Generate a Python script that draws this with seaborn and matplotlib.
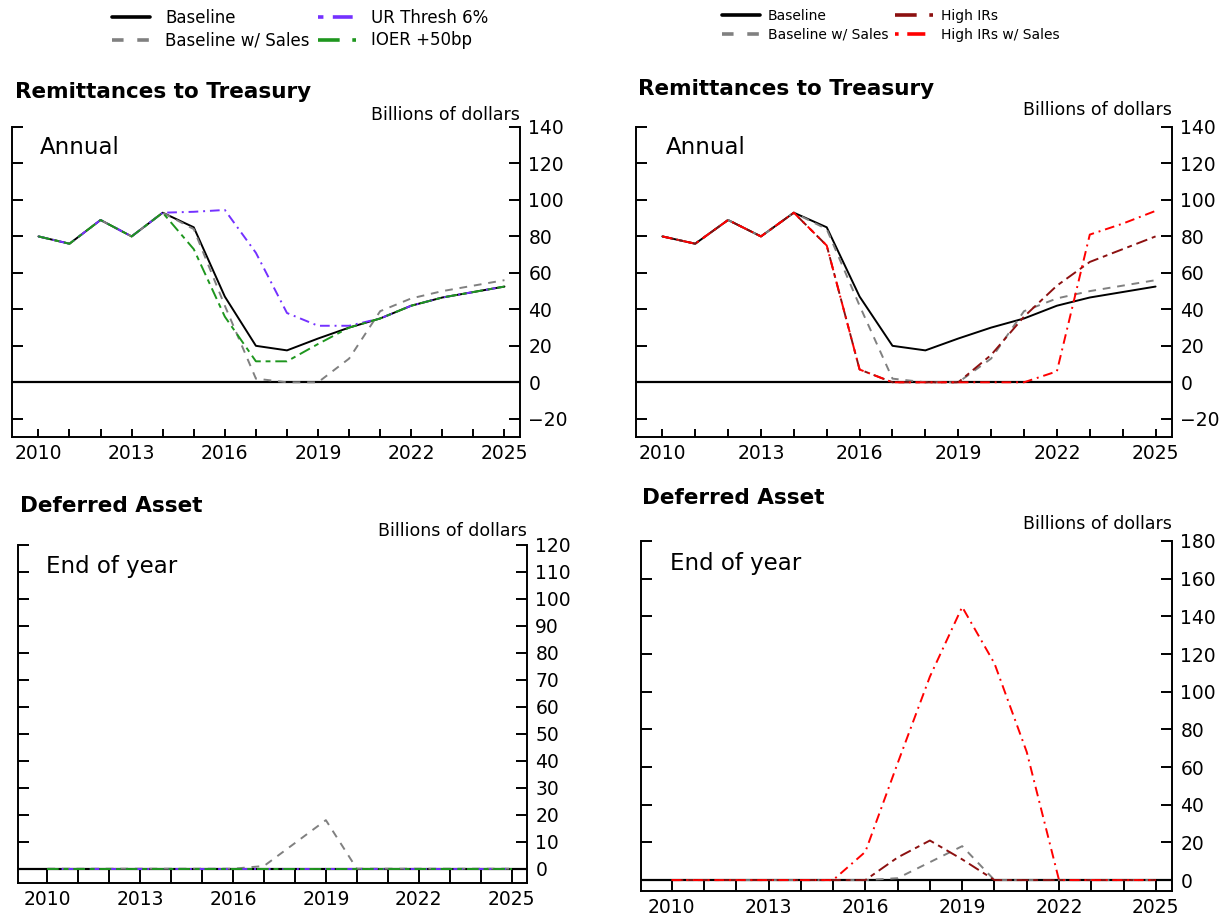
import matplotlib
matplotlib.use("Agg")
import matplotlib.pyplot as plt
from matplotlib.lines import Line2D
from matplotlib.ticker import MultipleLocator, FormatStrFormatter
import pandas as pd
import seaborn as sns

# ---------------------------------------------------------------- data
years = list(range(2010, 2026))

# Remittances to Treasury, billions of dollars (annual)
remit_baseline = [80, 76, 89, 80, 93, 85, 47, 20, 17.5, 24, 30, 35, 42, 46.5, 49.5, 52.5]
remit_sales = [80, 76, 89, 80, 93, 84, 42, 2, 0, 0, 13, 39, 46, 50, 53, 56]
remit_ur6 = [80, 76, 89, 80, 93, 93.5, 94.5, 71, 38, 31, 31, 35, 42, 46.5, 49.5, 52.5]
remit_ioer = [80, 76, 89, 80, 93, 73, 36, 11.5, 11.5, 21, 30, 35, 42, 46.5, 49.5, 52.5]
remit_high = [80, 76, 89, 80, 93, 75, 7, 0, 0, 0, 15, 36, 53, 66, 73, 80]
remit_high_sales = [80, 76, 89, 80, 93, 75, 7, 0, 0, 0, 0, 0, 6, 81, 87, 94]

# Deferred asset, billions of dollars (end of year)
def_baseline = [0, 0, 0, 0, 0, 0, 0, 0, 0, 0, 0, 0, 0, 0, 0, 0]
def_sales = [0, 0, 0, 0, 0, 0, 0, 1, 9.5, 18, 0, 0, 0, 0, 0, 0]
def_ur6 = [0, 0, 0, 0, 0, 0, 0, 0, 0, 0, 0, 0, 0, 0, 0, 0]
def_ioer = [0, 0, 0, 0, 0, 0, 0, 0, 0, 0, 0, 0, 0, 0, 0, 0]
def_high = [0, 0, 0, 0, 0, 0, 0, 12, 21, 11, 0, 0, 0, 0, 0, 0]
def_high_sales = [0, 0, 0, 0, 0, 0, 15, 62, 108, 145, 115, 68, 0, 0, 0, 0]

left_names = ["Baseline", "Baseline w/ Sales", "UR Thresh 6%", "IOER +50bp"]
right_names = ["Baseline", "Baseline w/ Sales", "High IRs", "High IRs w/ Sales"]

# ---------------------------------------------------------------- styles
colors = {
    "Baseline": "#000000",
    "Baseline w/ Sales": "#808080",
    "UR Thresh 6%": "#7431ff",
    "IOER +50bp": "#1e961e",
    "High IRs": "#8c1010",
    "High IRs w/ Sales": "#ff0000",
}
line_dashes = {
    "Baseline": "",
    "Baseline w/ Sales": (4, 3.5),
    "UR Thresh 6%": (5, 2.5, 1, 2.5),
    "IOER +50bp": (6, 2.5, 2.5, 2.5),
    "High IRs": (6, 2.5, 2.5, 2.5),
    "High IRs w/ Sales": (5, 2.5, 1, 2.5),
}
legend_dashes = {
    "Baseline": (None, None),
    "Baseline w/ Sales": (3.2, 3.8),
    "UR Thresh 6%": (1.5, 2.6, 5.5, 2.6),
    "IOER +50bp": (6, 3.5, 2.4, 3.5),
    "High IRs": (6, 3.5, 2.4, 3.5),
    "High IRs w/ Sales": (1.0, 2.4, 5.0, 2.4),
}

sns.set_theme(style="white")
plt.rcParams["font.family"] = ["DejaVu Sans"]
plt.rcParams["text.color"] = "black"
plt.rcParams["axes.edgecolor"] = "black"
plt.rcParams["xtick.color"] = "black"
plt.rcParams["ytick.color"] = "black"

fig = plt.figure(figsize=(12.29, 9.16), dpi=100)
W, H = 1229.0, 916.0


def px_rect(left, top, right, bottom):
    return [left / W, 1 - bottom / H, (right - left) / W, (bottom - top) / H]


def panel(rect, names, values, ylim, ystep, xlim, xtick_len, note):
    ax = fig.add_axes(rect)
    frame = pd.DataFrame({
        "year": [y for _ in names for y in years],
        "value": [v for vals in values for v in vals],
        "series": [n for n in names for _ in years],
    })
    ax.axhline(0, color="black", lw=1.6, zorder=1)
    sns.lineplot(data=frame, x="year", y="value", hue="series", style="series",
                 hue_order=names, style_order=names,
                 palette={n: colors[n] for n in names},
                 dashes={n: line_dashes[n] for n in names},
                 linewidth=1.4, errorbar=None, legend=False, sort=False, ax=ax)
    ax.set_xlabel("")
    ax.set_ylabel("")
    ax.set_xlim(*xlim)
    ax.set_ylim(*ylim)
    ax.xaxis.set_major_locator(MultipleLocator(3))
    ax.xaxis.set_minor_locator(MultipleLocator(1))
    ax.xaxis.set_major_formatter(FormatStrFormatter("%d"))
    ax.yaxis.set_major_locator(MultipleLocator(ystep))
    ax.tick_params(axis="x", which="both", direction="in", bottom=True, top=False,
                   length=xtick_len, width=1.4, labelsize=13.5, pad=5)
    ax.tick_params(axis="y", which="major", direction="in", left=True, right=True,
                   labelleft=False, labelright=True, length=8, width=1.4,
                   labelsize=13.5, pad=6)
    ax.spines["top"].set_visible(False)
    for side in ("left", "right", "bottom"):
        ax.spines[side].set_linewidth(1.4)
        ax.spines[side].set_color("black")
    ax.text(0.055, 0.935, note, transform=ax.transAxes, ha="left", va="center",
            fontsize=16.5)
    return ax


# Remittances to Treasury
panel(px_rect(12, 127, 520, 437), left_names,
      [remit_baseline, remit_sales, remit_ur6, remit_ioer],
      (-30, 140), 20, (2009.15, 2025.5), 6, "Annual")
panel(px_rect(636, 127, 1172, 437), right_names,
      [remit_baseline, remit_sales, remit_high, remit_high_sales],
      (-30, 140), 20, (2009.2, 2025.5), 6, "Annual")

# Deferred asset
panel(px_rect(18, 545, 527, 883), left_names,
      [def_baseline, def_sales, def_ur6, def_ioer],
      (-5.3, 120), 10, (2009.05, 2025.5), 10.5, "End of year")
panel(px_rect(641, 541, 1172, 891), right_names,
      [def_baseline, def_sales, def_high, def_high_sales],
      (-5.8, 180), 20, (2009.05, 2025.5), 8, "End of year")

# Titles and unit labels
for x, y, txt in [(15, 92, "Remittances to Treasury"), (638, 89, "Remittances to Treasury"),
                  (20, 506, "Deferred Asset"), (642, 498, "Deferred Asset")]:
    fig.text(x / W, 1 - y / H, txt, ha="left", va="center", fontsize=15.5,
             fontweight="bold")
for x, y in [(520, 115), (1172, 110), (527, 531), (1172, 524)]:
    fig.text(x / W, 1 - y / H, "Billions of dollars", ha="right", va="center",
             fontsize=12.5)


# Legends
def legend_handles(names):
    return [Line2D([0], [0], color=colors[n], lw=2.6, dashes=legend_dashes[n])
            for n in names]


fig.legend(legend_handles(left_names), left_names, loc="upper left",
           bbox_to_anchor=(112 / W, 1 - 9 / H), ncol=2, frameon=False, fontsize=12,
           handlelength=2.3, handletextpad=0.9, columnspacing=0.5,
           labelspacing=0.26, borderpad=0, borderaxespad=0)
fig.legend(legend_handles(right_names), right_names, loc="upper left",
           bbox_to_anchor=(722 / W, 1 - 9 / H), ncol=2, frameon=False, fontsize=10,
           handlelength=2.7, handletextpad=0.6, columnspacing=0.5,
           labelspacing=0.34, borderpad=0, borderaxespad=0)

fig.savefig("out.png", dpi=100)
